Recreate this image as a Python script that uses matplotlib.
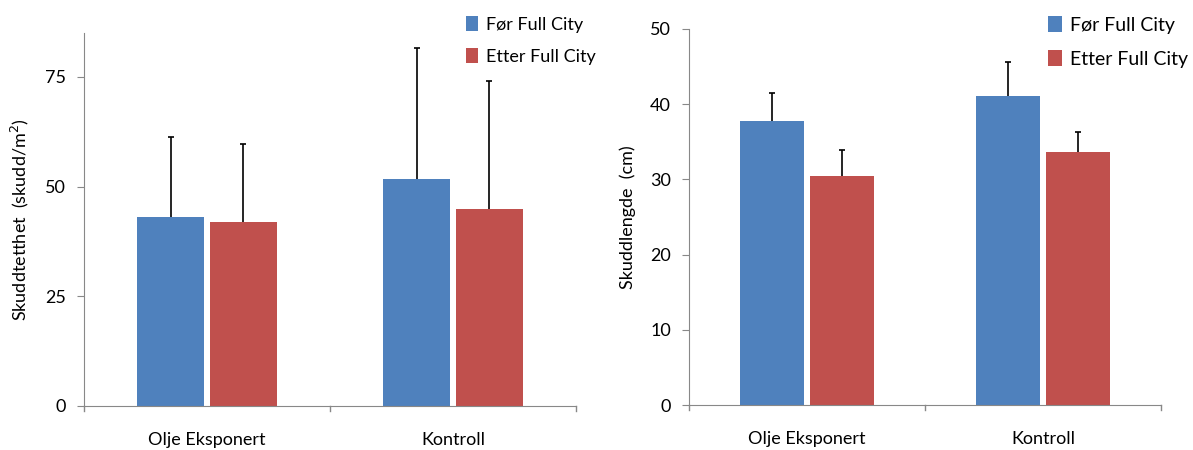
import matplotlib.pyplot as plt
import numpy as np

plt.rcParams['font.family'] = ['Lato', 'DejaVu Sans']

# Data
categories = ['Olje Eksponert', 'Kontroll']
series = ['Før Full City', 'Etter Full City']
colors = ['#4F81BD', '#C0504D']

density_before = [43.1, 51.8]
density_after = [41.9, 44.9]
density_before_err = [18.2, 29.8]
density_after_err = [17.8, 29.2]

length_before = [37.8, 41.1]
length_after = [30.4, 33.6]
length_before_err = [3.7, 4.5]
length_after_err = [3.5, 2.7]

fig = plt.figure(figsize=(11.93, 4.5), dpi=100)
ax1 = fig.add_axes([0.0704, 0.0978, 0.4124, 0.8289])
ax2 = fig.add_axes([0.5775, 0.1000, 0.3957, 0.8356])

axis_color = '#888888'
x = np.arange(len(categories))
width = 0.27
offset = 0.148


def draw(ax, before, after, before_err, after_err, ylim, yticks, ylabel, leg_pos, leg_fs):
    for pos, vals, errs, col, lab in [(x - offset, before, before_err, colors[0], series[0]),
                                      (x + offset, after, after_err, colors[1], series[1])]:
        bars = ax.bar(pos, vals, width, color=col, label=lab,
                      yerr=[[0] * len(vals), errs], capsize=2.5,
                      error_kw=dict(ecolor='black', elinewidth=1.2, capthick=1.2))
        # hide the lower caps (only upper error shown)
        caps = bars.errorbar.lines[1]
        caps[0].set_visible(False)
    ax.set_xlim(-0.5, 1.5)
    ax.set_ylim(*ylim)
    ax.set_yticks(yticks)
    ax.set_xticks(x)
    ax.set_xticklabels(categories, fontsize=13)
    ax.tick_params(axis='x', length=0, pad=19)
    ax.tick_params(axis='y', labelsize=13, length=5, color=axis_color, direction='out', pad=8)
    # category separators on the x axis
    for xb in [-0.5, 0.5, 1.5]:
        ax.plot([xb, xb], [0, -ylim[1] * 0.013], color=axis_color, lw=1, clip_on=False)
    for s in ['top', 'right']:
        ax.spines[s].set_visible(False)
    ax.spines['left'].set_color(axis_color)
    ax.spines['bottom'].set_color(axis_color)
    ax.set_ylabel(ylabel, fontsize=13, labelpad=10)
    ax.legend(loc='upper left', bbox_to_anchor=leg_pos, frameon=False,
              fontsize=leg_fs, handlelength=0.7, handleheight=0.9, handletextpad=0.4,
              labelspacing=0.85, borderaxespad=0, borderpad=0)


draw(ax1, density_before, density_after, density_before_err, density_after_err,
     (0, 85), [0, 25, 50, 75], 'Skuddtetthet  (skudd/m$^2$)', (0.776, 1.045), 13)
draw(ax2, length_before, length_after, length_before_err, length_after_err,
     (0, 50), [0, 10, 20, 30, 40, 50], 'Skuddlengde  (cm)', (0.761, 1.035), 14)

fig.savefig('out.png', dpi=100)
